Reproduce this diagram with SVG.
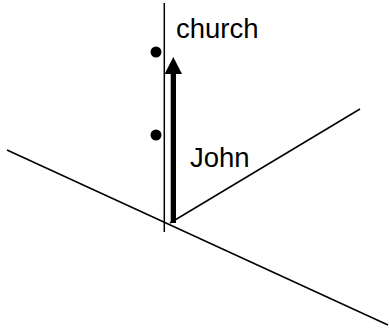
<svg xmlns="http://www.w3.org/2000/svg" width="389" height="330" viewBox="0 0 389 330">
<style>
.ln{stroke:#000;stroke-width:1.5;fill:none}
.t{font-family:"Liberation Sans",Arial,sans-serif;font-size:27.5px;fill:#000}
</style>
<rect width="389" height="330" fill="#fff"/>
<g id="axes">
<line class="ln" x1="164.3" y1="3" x2="164.3" y2="232"/>
<line class="ln" x1="7" y1="150" x2="388" y2="325"/>
<line class="ln" x1="170" y1="223" x2="360" y2="109"/>
</g>
<g id="dots">
<circle cx="156" cy="52" r="5.5" fill="#000"/>
<circle cx="156" cy="135" r="5.5" fill="#000"/>
</g>
<g id="arrow">
<rect x="170.7" y="73" width="5.3" height="150" fill="#000"/>
<polygon points="173.3,57 182,74 164.6,74" fill="#000"/>
</g>
<g id="labels">
<text class="t" x="176" y="38">church</text>
<text class="t" x="190" y="167">John</text>
</g>
</svg>
